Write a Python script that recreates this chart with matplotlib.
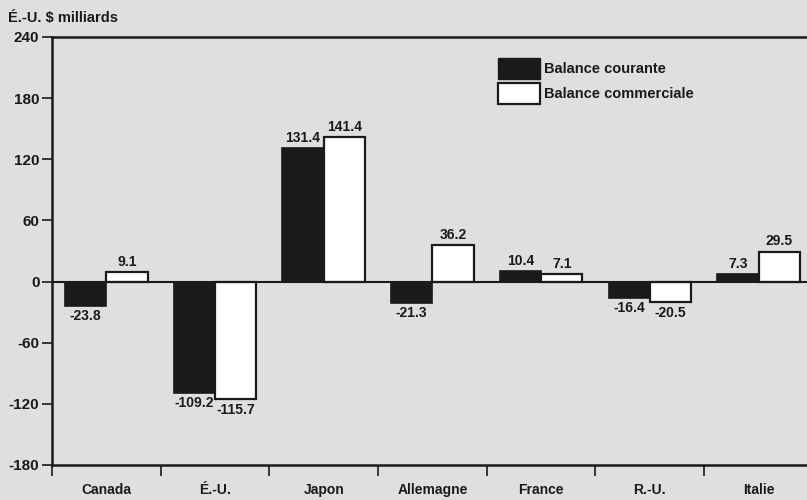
import matplotlib
matplotlib.use("Agg")
import matplotlib.pyplot as plt
import numpy as np
from matplotlib.patches import Patch

categories = ["Canada", "É.-U.", "Japon", "Allemagne", "France", "R.-U.", "Italie"]
courante = [-23.8, -109.2, 131.4, -21.3, 10.4, -16.4, 7.3]
commerciale = [9.1, -115.7, 141.4, 36.2, 7.1, -20.5, 29.5]
yticks = [-180, -120, -60, 0, 60, 120, 180, 240]

plt.rcParams['font.family'] = ['Liberation Sans Narrow', 'Liberation Sans', 'DejaVu Sans']
ink = "#1a1a1a"
bg = "#dfdfdf"
fig = plt.figure(figsize=(8.07, 5.0), dpi=100, facecolor=bg)
ax = fig.add_axes([52/807, 35/500, 1 - 52/807 + 0.01, 428/500], facecolor=bg)

x = np.arange(len(categories))
w = 0.38
ax.bar(x - w/2, courante, w, color=ink, edgecolor=ink, linewidth=1.2, label="Balance courante")
ax.bar(x + w/2, commerciale, w, color="white", edgecolor=ink, linewidth=1.6, label="Balance commerciale")

for xs, vals in ((x - w/2, courante), (x + w/2, commerciale)):
    for xi, v in zip(xs, vals):
        off = 3 if v >= 0 else -3
        ax.text(xi, v + off, f"{v:.1f}", ha="center", va="bottom" if v >= 0 else "top",
                fontsize=10, fontweight="bold", color=ink)

ax.axhline(0, color=ink, linewidth=1.5)
ax.set_ylim(-180, 240)
ax.set_xlim(-0.5, len(categories) - 0.5 + 0.02)
ax.set_yticks(yticks)
ax.set_yticklabels([str(t) for t in yticks], fontsize=11, fontweight="bold", color=ink)
ax.set_xticks(np.arange(len(categories) + 1) - 0.5)
ax.set_xticklabels([])
ax.set_xticks(x, minor=True)
ax.set_xticklabels(categories, minor=True, fontsize=10, fontweight="bold", color=ink)
ax.tick_params(axis="x", which="minor", length=0, pad=13)
ax.tick_params(axis="x", which="major", length=8, width=1.2, direction="out", color=ink)
ax.tick_params(axis="y", length=7, width=1.2, direction="out", color=ink, pad=2)
for s in ["left", "bottom", "top"]:
    ax.spines[s].set_linewidth(1.8)
    ax.spines[s].set_color(ink)
ax.spines["right"].set_visible(False)

fig.text(8/807, 1 - 18/500, "É.-U. $ milliards", fontsize=10.5, fontweight="bold",
         color=ink, va="center", ha="left")

leg = fig.legend(handles=[Patch(facecolor=ink, edgecolor=ink, label="Balance courante"),
                          Patch(facecolor="white", edgecolor=ink, linewidth=1.6, label="Balance commerciale")],
                 loc="upper left", bbox_to_anchor=(498/807, 1 - 58/500), frameon=False,
                 borderaxespad=0, borderpad=0,
                 prop={"size": 10.5, "weight": "bold"}, handlelength=2.9, handleheight=1.8,
                 handletextpad=0.25, labelspacing=0.3)
for t in leg.get_texts():
    t.set_color(ink)

fig.savefig("out.png", dpi=100, facecolor=bg)
